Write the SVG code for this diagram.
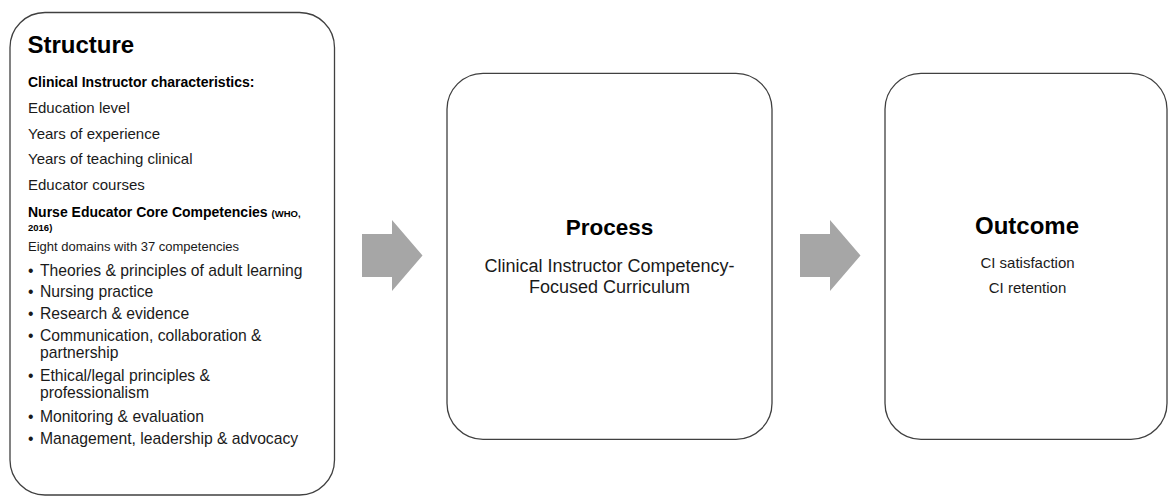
<svg xmlns="http://www.w3.org/2000/svg" width="1168" height="496" viewBox="0 0 1168 496">
<style>
.box{fill:#fff;stroke:#404040;stroke-width:1.3}
.arr{fill:#a6a6a6}
text{font-family:"Liberation Sans",Arial,sans-serif;fill:#1a1a1a}
.h{font-weight:bold;font-size:24px;fill:#000}
.b{font-weight:bold;font-size:14px;fill:#000}
.s{font-weight:bold;font-size:9.5px;fill:#000}
.r{font-size:15px}
.li{font-size:15.7px}
.c{text-anchor:middle}
</style>
<rect width="1168" height="496" fill="#fff"/>
<g id="connectors">
<polygon class="arr" points="362,234 392,234 392,220 422.5,255.5 392,291 392,277 362,277"/>
<polygon class="arr" points="800,234 830,234 830,220 860.5,255.5 830,291 830,277 800,277"/>
</g>
<g id="structure">
<rect class="box" x="10" y="12.5" width="324.5" height="482.5" rx="35" ry="35"/>
<text class="h" x="27.5" y="53">Structure</text>
<text class="b" x="28" y="87">Clinical Instructor characteristics:</text>
<text class="r" x="28" y="113">Education level</text>
<text class="r" x="28" y="138.5">Years of experience</text>
<text class="r" x="28" y="164">Years of teaching clinical</text>
<text class="r" x="28" y="189.5">Educator courses</text>
<text class="b" x="28" y="217">Nurse Educator Core Competencies <tspan class="s">(WHO,</tspan></text>
<text class="s" x="28" y="231">2016)</text>
<text x="28" y="250.5" style="font-size:13px">Eight domains with 37 competencies</text>
<g class="li">
<text x="28" y="276">•</text><text x="40" y="276">Theories &amp; principles of adult learning</text>
<text x="28" y="297">•</text><text x="40" y="297">Nursing practice</text>
<text x="28" y="318.5">•</text><text x="40" y="318.5">Research &amp; evidence</text>
<text x="28" y="341">•</text><text x="40" y="341">Communication, collaboration &amp;</text>
<text x="40" y="358">partnership</text>
<text x="28" y="381">•</text><text x="40" y="381">Ethical/legal principles &amp;</text>
<text x="40" y="398">professionalism</text>
<text x="28" y="422">•</text><text x="40" y="422">Monitoring &amp; evaluation</text>
<text x="28" y="444">•</text><text x="40" y="444">Management, leadership &amp; advocacy</text>
</g>
</g>
<g id="process">
<rect class="box" x="447" y="73.3" width="325" height="366" rx="36" ry="36"/>
<text class="h c" x="609.5" y="235" style="font-size:22.5px">Process</text>
<text class="c" x="609.5" y="271.5" style="font-size:18px">Clinical Instructor Competency-</text>
<text class="c" x="609.5" y="292.5" style="font-size:18px">Focused Curriculum</text>
</g>
<g id="outcome">
<rect class="box" x="885" y="73.3" width="282" height="366" rx="36" ry="36"/>
<text class="h c" x="1027" y="234">Outcome</text>
<text class="r c" x="1027.5" y="268">CI satisfaction</text>
<text class="r c" x="1027.5" y="293">CI retention</text>
</g>
</svg>
